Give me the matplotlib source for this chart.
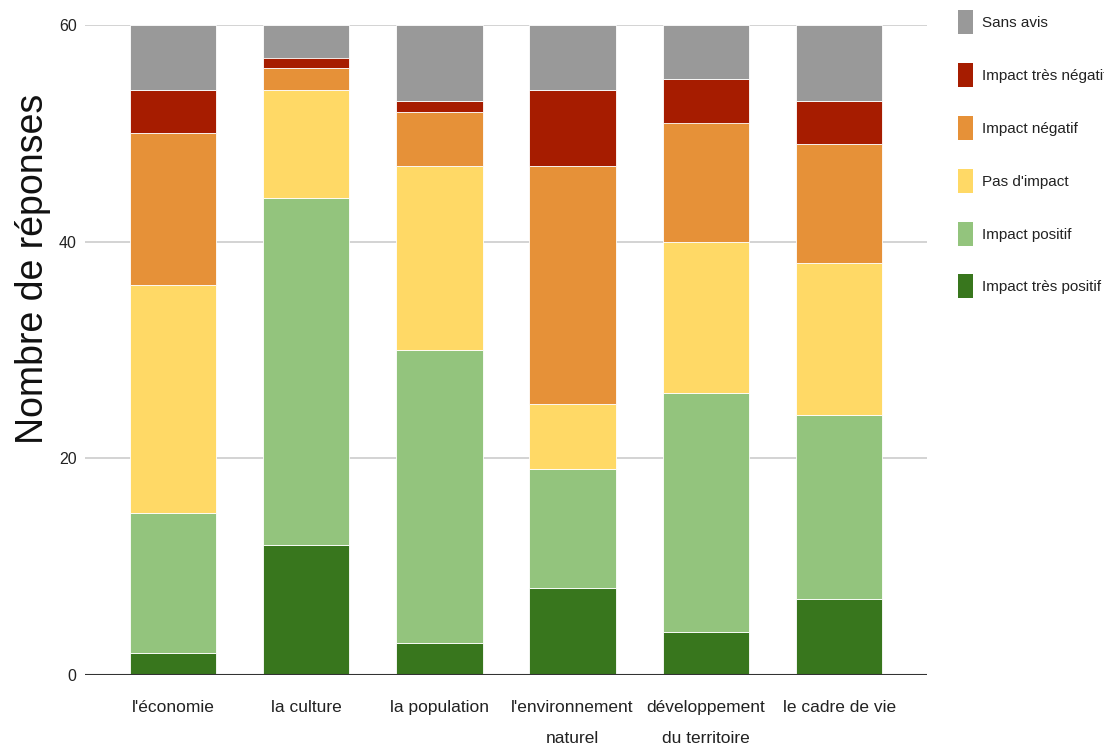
import matplotlib
matplotlib.use("Agg")
import matplotlib.pyplot as plt
from matplotlib.patches import Rectangle
import numpy as np

# data
categories = ["l'économie", "la culture", "la population",
              "l'environnement\nnaturel", "développement\ndu territoire", "le cadre de vie"]
series_names = ["Impact très positif", "Impact positif", "Pas d'impact",
                "Impact négatif", "Impact très négatif", "Sans avis"]
tres_positif = [2, 12, 3, 8, 4, 7]
positif = [13, 32, 27, 11, 22, 17]
pas_impact = [21, 10, 17, 6, 14, 14]
negatif = [14, 2, 5, 22, 11, 11]
tres_negatif = [4, 1, 1, 7, 4, 4]
sans_avis = [6, 3, 7, 6, 5, 7]
yticks = [0, 20, 40, 60]

colors = ["#38761d", "#93c47d", "#ffd966", "#e69138", "#a61c00", "#999999"]
font = ["Liberation Sans", "DejaVu Sans"]

fig = plt.figure(figsize=(11.04, 7.56), dpi=100)
ax = fig.add_axes([85 / 1104, 1 - 675 / 756, (927 - 85) / 1104, 650 / 756])

x = np.arange(len(categories))
bottom = np.zeros(len(categories))
for vals, col in zip([tres_positif, positif, pas_impact, negatif, tres_negatif, sans_avis], colors):
    ax.bar(x, vals, width=0.65, bottom=bottom, color=col, edgecolor="white", linewidth=0.6, zorder=3)
    bottom += np.array(vals)

ax.set_xlim(-0.66, len(categories) - 0.34)
ax.set_ylim(0, 60)
ax.set_yticks(yticks)
ax.set_yticklabels([str(t) for t in yticks], family=font, fontsize=11.5, color="#222222")
ax.set_xticks(x)
ax.set_xticklabels(categories, family=font, fontsize=12.5, color="#222222", linespacing=2.3)
ax.tick_params(axis="both", length=0)
ax.tick_params(axis="y", pad=6)
ax.tick_params(axis="x", pad=18)

for t in yticks[1:]:
    ax.axhline(t, color="#cccccc", linewidth=1.2, zorder=1)
ax.axhline(0, color="#333333", linewidth=1.5, zorder=4)
for s in ax.spines.values():
    s.set_visible(False)

fig.text(33 / 1104, 1 - 269 / 756, "Nombre de réponses", rotation=90, fontsize=27,
         family=font, color="#111111", ha="center", va="center")

# legend, top entry first
leg_y = [22, 75, 128, 181, 234, 286]
for name, col, yy in zip(series_names[::-1], colors[::-1], leg_y):
    fig.patches.append(Rectangle((958 / 1104, 1 - (yy + 12) / 756), 15 / 1104, 24 / 756,
                                 transform=fig.transFigure, facecolor=col, edgecolor="none"))
    fig.text(982 / 1104, 1 - (yy + 1) / 756, name, fontsize=11, family=font,
             color="#222222", ha="left", va="center")

fig.savefig("out.png", dpi=100)
